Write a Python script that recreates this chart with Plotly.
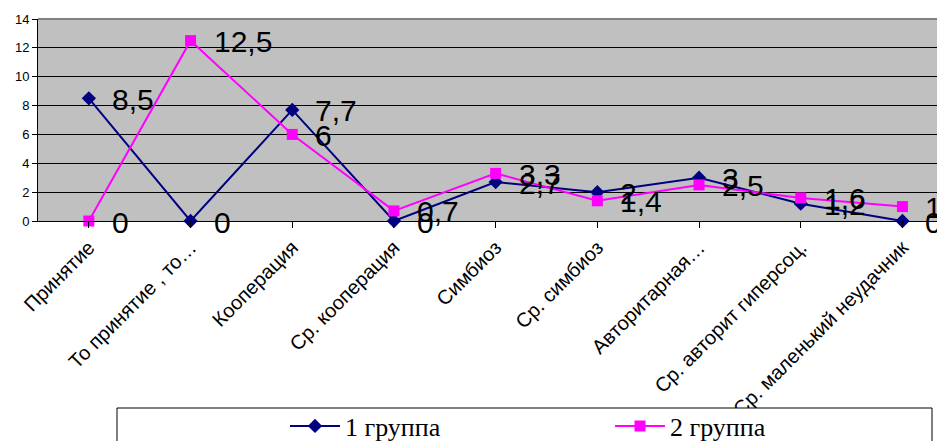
import plotly.graph_objects as go

categories = ["Принятие", "То принятие , то…", "Кооперация", "Ср. кооперация", "Симбиоз",
              "Ср. симбиоз", "Авторитарная…", "Ср. авторит гиперсоц.", "Ср. маленький неудачник"]
group1 = [8.5, 0, 7.7, 0, 2.7, 2, 3, 1.2, 0]
group2 = [0, 12.5, 6, 0.7, 3.3, 1.4, 2.5, 1.6, 1]
series_names = ["1 группа", "2 группа"]
series_colors = ["#000080", "#FF00FF"]
y_ticks = [0, 2, 4, 6, 8, 10, 12, 14]


def fmt(v):
    return ("%g" % v).replace(".", ",")


# figure-pixel layout (page body adds an 8px offset)
W, H = 945, 441
L, R = 30, 937
T, B = 11, 213
STEP = 101.7


def px(xp):
    return (xp - L) / (R - L)


def py(yp):
    return (B - yp) / (B - T)


x_idx = list(range(len(categories)))

fig = go.Figure()
fig.add_trace(go.Scatter(
    x=x_idx, y=group1, name=series_names[0], mode="lines+markers",
    line=dict(color=series_colors[0], width=2),
    marker=dict(symbol="diamond", size=11, color=series_colors[0]),
    cliponaxis=False,
))
fig.add_trace(go.Scatter(
    x=x_idx, y=group2, name=series_names[1], mode="lines+markers",
    line=dict(color=series_colors[1], width=2),
    marker=dict(symbol="square", size=11, color=series_colors[1]),
    cliponaxis=False,
))

for series in (group1, group2):
    for i, v in zip(x_idx, series):
        fig.add_annotation(x=i, y=v, text=fmt(v), showarrow=False, xanchor="left",
                           yanchor="middle", xshift=21, yshift=-1,
                           font=dict(family="Liberation Sans, Arial", size=30, color="black"))

# legend box
fig.add_shape(type="rect", xref="paper", yref="paper",
              x0=px(109), x1=px(924), y0=py(460), y1=py(400),
              fillcolor="white", line=dict(color="black", width=1), layer="above")
# top border of plot area
fig.add_shape(type="line", xref="paper", yref="paper",
              x0=0, x1=1, y0=1, y1=1, line=dict(color="#808080", width=2), layer="above")

fig.update_layout(
    width=W, height=H,
    margin=dict(l=L, r=W - R, t=T, b=H - B, autoexpand=False),
    paper_bgcolor="white", plot_bgcolor="#C0C0C0",
    showlegend=True,
    legend=dict(orientation="h", x=px(277), y=py(418), xanchor="left", yanchor="middle",
                entrywidth=260, entrywidthmode="pixels",
                font=dict(family="Liberation Serif, Times New Roman", size=26, color="black"),
                bgcolor="rgba(0,0,0,0)", itemwidth=50),
    font=dict(family="Liberation Sans, Arial", color="black"),
)
fig.update_xaxes(
    range=[-0.5, -0.5 + (R - L) / STEP], tickmode="array", tickvals=x_idx, ticktext=categories,
    tickangle=-45, tickfont=dict(size=20), tickson="boundaries", ticks="outside", ticklen=6,
    tickcolor="black", showline=True, linecolor="black", linewidth=1, showgrid=False,
    zeroline=False,
)
fig.update_yaxes(
    range=[0, 14], tickmode="array", tickvals=y_ticks, ticktext=[str(v) for v in y_ticks],
    tickfont=dict(size=13), ticks="outside", ticklen=5, tickcolor="black",
    showline=True, linecolor="black", linewidth=1, showgrid=True, gridcolor="#000000",
    gridwidth=1, zeroline=False,
)
fig.write_html("out.html")
